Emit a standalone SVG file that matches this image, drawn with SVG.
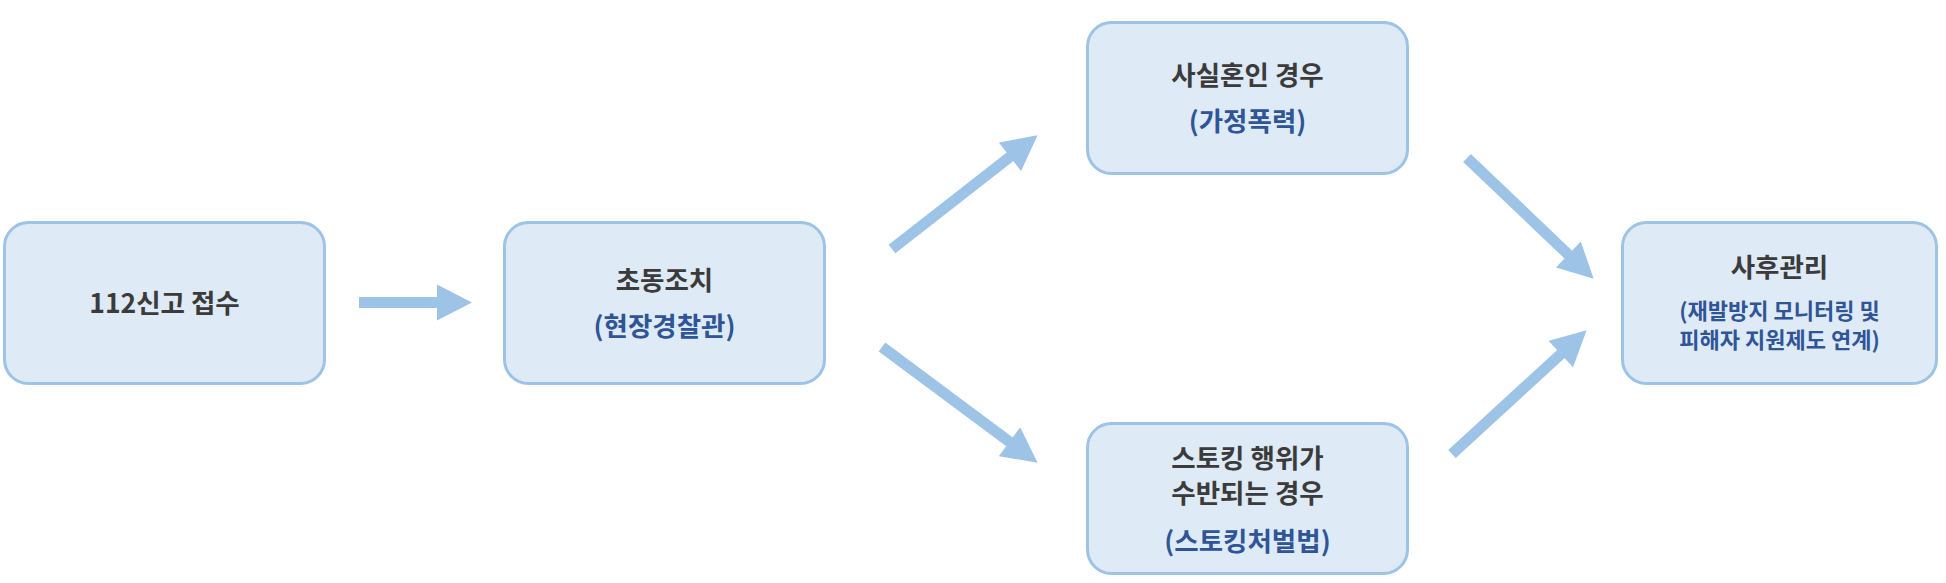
<svg xmlns="http://www.w3.org/2000/svg" width="1946" height="583" viewBox="0 0 1946 583">
<style>
.box{fill:#DEEAF6;stroke:#9DC3E6;stroke-width:3}
.t{font-family:"Noto Sans CJK KR","Noto Sans",sans-serif;font-weight:700;text-anchor:middle}
.d{fill:#3B3B3B;font-size:26.5px}
.b{fill:#2F5597;font-size:26.5px}
.s{fill:#2F5597;font-size:22px}
.arr{stroke:#9DC3E6;stroke-width:11;fill:none}
</style>
<defs>
<marker id="head" markerUnits="userSpaceOnUse" markerWidth="36" markerHeight="36" viewBox="0 0 35 36" refX="0.5" refY="18" orient="auto">
<path d="M0,0 L35,18 L0,36 Z" fill="#9DC3E6"/>
</marker>
</defs>
<g id="connectors">
<line class="arr" x1="359" y1="302.5" x2="437.5" y2="302.5" marker-end="url(#head)"/>
<line class="arr" x1="892" y1="249" x2="1010.4" y2="156.5" marker-end="url(#head)"/>
<line class="arr" x1="882" y1="347" x2="1009.9" y2="442.1" marker-end="url(#head)"/>
<line class="arr" x1="1467" y1="158" x2="1568.7" y2="254.9" marker-end="url(#head)"/>
<line class="arr" x1="1452" y1="454" x2="1561.2" y2="353.7" marker-end="url(#head)"/>
</g>
<g id="node-report">
<rect class="box" x="4.5" y="222.5" width="320" height="161" rx="24"/>
<text class="t d" x="164.5" y="313">112신고 접수</text>
</g>
<g id="node-initial">
<rect class="box" x="504.5" y="222.5" width="320" height="161" rx="24"/>
<text class="t d" x="664.5" y="290">초동조치</text>
<text class="t b" x="664.5" y="336">(현장경찰관)</text>
</g>
<g id="node-domestic">
<rect class="box" x="1087.5" y="22.5" width="320" height="151" rx="24"/>
<text class="t d" x="1247.5" y="85">사실혼인 경우</text>
<text class="t b" x="1247.5" y="131">(가정폭력)</text>
</g>
<g id="node-stalking">
<rect class="box" x="1087.5" y="423.5" width="320" height="150" rx="24"/>
<text class="t d" x="1247.5" y="468">스토킹 행위가</text>
<text class="t d" x="1247.5" y="503">수반되는 경우</text>
<text class="t b" x="1247.5" y="551">(스토킹처벌법)</text>
</g>
<g id="node-after">
<rect class="box" x="1622.5" y="222.5" width="314" height="161" rx="24"/>
<text class="t d" x="1779.5" y="277">사후관리</text>
<text class="t s" x="1779.5" y="319">(재발방지 모니터링 및</text>
<text class="t s" x="1779.5" y="348">피해자 지원제도 연계)</text>
</g>
</svg>
